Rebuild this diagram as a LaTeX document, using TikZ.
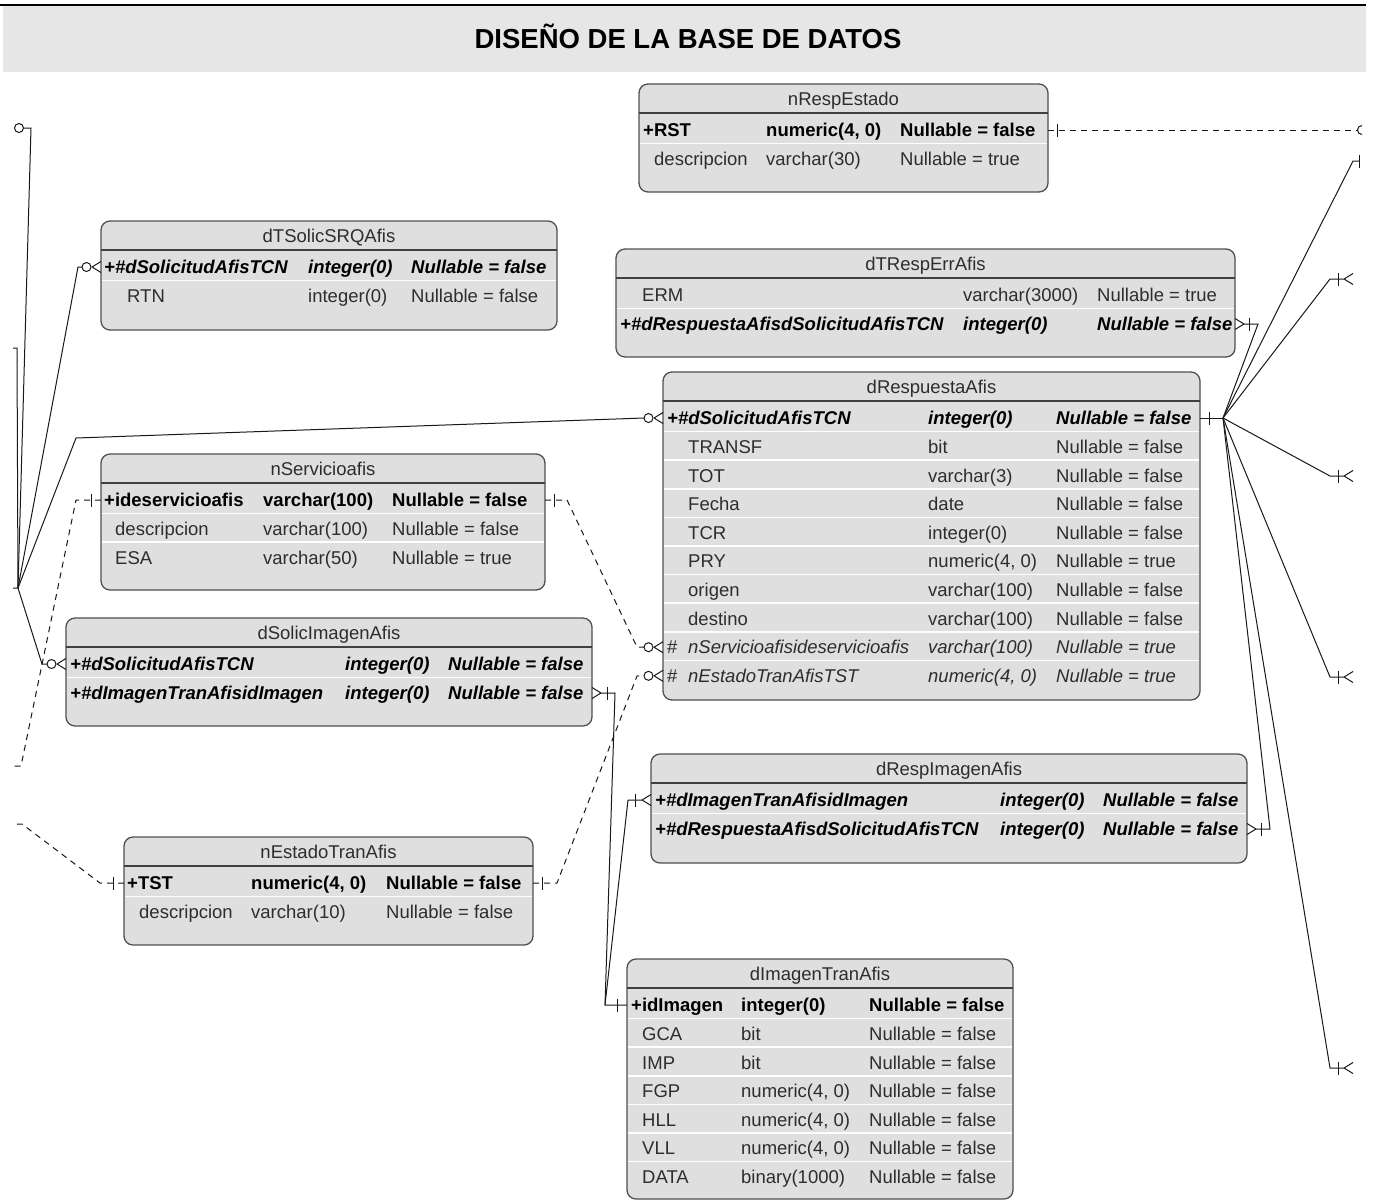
\documentclass[tikz,border=0pt]{standalone}
\usepackage{fontspec}
\setmainfont{Liberation Sans}
\usetikzlibrary{calc}

\definecolor{boxfill}{RGB}{223,223,223}
\definecolor{bandfill}{RGB}{230,230,230}
\definecolor{boxedge}{RGB}{80,80,80}
\definecolor{txt}{RGB}{45,45,45}
\definecolor{ink}{RGB}{25,25,25}

\tikzset{
  x=1pt, y=-1pt,
  tbox/.style={draw=boxedge, line width=1.3pt, fill=boxfill, rounded corners=9pt, inner sep=0pt, outer sep=0pt},
  hdrline/.style={draw=boxedge!80!black, line width=2pt},
  sepline/.style={draw=white, line width=1.6pt},
  htitle/.style={anchor=base, inner sep=0pt, text=txt, font=\fontsize{18.5}{20}\selectfont},
  cell/.style={anchor=base west, inner sep=0pt, text=txt, font=\fontsize{18.5}{20}\selectfont},
  pk/.style={cell, text=black, font=\fontsize{18.5}{20}\selectfont\bfseries},
  fk/.style={cell, text=black, font=\fontsize{18.5}{20}\selectfont\bfseries\itshape},
  fi/.style={cell, font=\fontsize{18.5}{20}\selectfont\itshape},
  conn/.style={draw=ink, line width=1pt},
  dconn/.style={conn, dash pattern=on 6pt off 5pt},
  sym/.style={draw=ink, line width=1pt, solid},
  crowfoot/.pic={\draw[sym] (-9,0) -- (0,-5.5) (-9,0) -- (0,5.5);},
  zeromany/.pic={\draw[sym] (-9,0) -- (0,-5.5) (-9,0) -- (0,5.5); \draw[sym] (-14.5,0) circle (4.5pt);},
  onebar/.pic={\draw[sym] (0,-6.5) -- (0,6.5);},
}

% table frame: name, left, top, right, bottom, header rule y, title
\newcommand\etable[7]{%
  \node[tbox, minimum width={(#4-#2)*1pt}, minimum height={(#5-#3)*1pt}] (#1) at ({(#2+#4)/2},{(#3+#5)/2}) {};
  \draw[hdrline] (#2,#6) -- (#4,#6);
  \node[htitle] (#1h) at ({(#2+#4)/2},{#3+21}) {#7};
}
% one row: name, baseline, style, x/name, x/type, x/nullable
\newcommand\trow[9]{%
  \node[#3] (#1n) at (#4,#2) {#5};
  \node[#3] (#1t) at (#6,#2) {#7};
  \node[#3] (#1u) at (#8,#2) {#9};
}
% white rule between rows
\newcommand\rsep[3]{\draw[sepline] (#1+1.2,#3) -- (#2-1.2,#3);}
% attachment point on a table side, level with a row
\newcommand\rowpt[3]{\coordinate (#1) at ($(#2 |- #3.base)+(0,-6.5)$);}

\begin{document}
\begin{tikzpicture}
\useasboundingbox (0,0) rectangle (1373,1203);
\fill[white] (0,0) rectangle (1373,1203);

% heading band
\fill[bandfill] (3,6) rectangle (1366,72);
\draw[line width=2pt, black] (0,5) -- (1366,5);
\node[anchor=base, inner sep=0pt, font=\fontsize{27.5}{30}\selectfont\bfseries] (title) at (688,48) {DISEÑO DE LA BASE DE DATOS};

% ---------------- tables ----------------
\etable{tNRE}{639}{84}{1048}{192}{113}{nRespEstado}
\trow{tNRE1}{136.5}{pk}{643}{+RST}{766}{numeric(4, 0)}{900}{Nullable = false}
\rsep{639}{1048}{143.5}
\trow{tNRE2}{165.5}{cell}{654}{descripcion}{766}{varchar(30)}{900}{Nullable = true}

\etable{tDTS}{101}{221}{557}{330}{250}{dTSolicSRQAfis}
\trow{tDTS1}{273.5}{fk}{104}{+\#dSolicitudAfisTCN}{308}{integer(0)}{411}{Nullable = false}
\rsep{101}{557}{280.5}
\trow{tDTS2}{302.5}{cell}{127}{RTN}{308}{integer(0)}{411}{Nullable = false}

\etable{tDTE}{616}{249}{1235}{357}{278}{dTRespErrAfis}
\trow{tDTE1}{301.5}{cell}{642}{ERM}{963}{varchar(3000)}{1097}{Nullable = true}
\rsep{616}{1235}{308.5}
\trow{tDTE2}{330.5}{fk}{620}{+\#dRespuestaAfisdSolicitudAfisTCN}{963}{integer(0)}{1097}{Nullable = false}

\etable{tDRA}{663}{372}{1200}{700}{401}{dRespuestaAfis}
\trow{tDRA1}{424.5}{fk}{667}{+\#dSolicitudAfisTCN}{928}{integer(0)}{1056}{Nullable = false}
\rsep{663}{1200}{431.5}
\trow{tDRA2}{453.5}{cell}{688}{TRANSF}{928}{bit}{1056}{Nullable = false}
\rsep{663}{1200}{460.1}
\trow{tDRA3}{482.1}{cell}{688}{TOT}{928}{varchar(3)}{1056}{Nullable = false}
\rsep{663}{1200}{488.7}
\trow{tDRA4}{510.7}{cell}{688}{Fecha}{928}{date}{1056}{Nullable = false}
\rsep{663}{1200}{517.3}
\trow{tDRA5}{539.3}{cell}{688}{TCR}{928}{integer(0)}{1056}{Nullable = false}
\rsep{663}{1200}{545.9}
\trow{tDRA6}{567.9}{cell}{688}{PRY}{928}{numeric(4, 0)}{1056}{Nullable = true}
\rsep{663}{1200}{574.5}
\trow{tDRA7}{596.5}{cell}{688}{origen}{928}{varchar(100)}{1056}{Nullable = false}
\rsep{663}{1200}{603.1}
\trow{tDRA8}{625.1}{cell}{688}{destino}{928}{varchar(100)}{1056}{Nullable = false}
\rsep{663}{1200}{631.7}
\node[cell] (tDRA9h) at (667,653.7) {\#};
\trow{tDRA9}{653.7}{fi}{688}{nServicioafisideservicioafis}{928}{varchar(100)}{1056}{Nullable = true}
\rsep{663}{1200}{660.3}
\node[cell] (tDRA10h) at (667,682.3) {\#};
\trow{tDRA10}{682.3}{fi}{688}{nEstadoTranAfisTST}{928}{numeric(4, 0)}{1056}{Nullable = true}

\etable{tNSA}{101}{454}{545}{590}{483}{nServicioafis}
\trow{tNSA1}{506.5}{pk}{104}{+ideservicioafis}{263}{varchar(100)}{392}{Nullable = false}
\rsep{101}{545}{513.5}
\trow{tNSA2}{535.5}{cell}{115}{descripcion}{263}{varchar(100)}{392}{Nullable = false}
\rsep{101}{545}{542.1}
\trow{tNSA3}{564.1}{cell}{115}{ESA}{263}{varchar(50)}{392}{Nullable = true}

\etable{tDSI}{66}{618}{592}{726}{647}{dSolicImagenAfis}
\trow{tDSI1}{670.5}{fk}{70}{+\#dSolicitudAfisTCN}{345}{integer(0)}{448}{Nullable = false}
\rsep{66}{592}{677.5}
\trow{tDSI2}{699.5}{fk}{70}{+\#dImagenTranAfisidImagen}{345}{integer(0)}{448}{Nullable = false}

\etable{tDRI}{651}{754}{1247}{863}{783}{dRespImagenAfis}
\trow{tDRI1}{806.5}{fk}{655}{+\#dImagenTranAfisidImagen}{1000}{integer(0)}{1103}{Nullable = false}
\rsep{651}{1247}{813.5}
\trow{tDRI2}{835.5}{fk}{655}{+\#dRespuestaAfisdSolicitudAfisTCN}{1000}{integer(0)}{1103}{Nullable = false}

\etable{tNET}{124}{837}{533}{945}{866}{nEstadoTranAfis}
\trow{tNET1}{889.5}{pk}{127}{+TST}{251}{numeric(4, 0)}{386}{Nullable = false}
\rsep{124}{533}{896.5}
\trow{tNET2}{918.5}{cell}{139}{descripcion}{251}{varchar(10)}{386}{Nullable = false}

\etable{tDIT}{627}{959}{1013}{1199}{988}{dImagenTranAfis}
\trow{tDIT1}{1011.5}{pk}{631}{+idImagen}{741}{integer(0)}{869}{Nullable = false}
\rsep{627}{1013}{1018.5}
\trow{tDIT2}{1040.5}{cell}{642}{GCA}{741}{bit}{869}{Nullable = false}
\rsep{627}{1013}{1047.1}
\trow{tDIT3}{1069.1}{cell}{642}{IMP}{741}{bit}{869}{Nullable = false}
\rsep{627}{1013}{1075.7}
\trow{tDIT4}{1097.7}{cell}{642}{FGP}{741}{numeric(4, 0)}{869}{Nullable = false}
\rsep{627}{1013}{1104.3}
\trow{tDIT5}{1126.3}{cell}{642}{HLL}{741}{numeric(4, 0)}{869}{Nullable = false}
\rsep{627}{1013}{1132.9}
\trow{tDIT6}{1154.9}{cell}{642}{VLL}{741}{numeric(4, 0)}{869}{Nullable = false}
\rsep{627}{1013}{1161.5}
\trow{tDIT7}{1183.5}{cell}{642}{DATA}{741}{binary(1000)}{869}{Nullable = false}

% ---------------- attachment points ----------------
\rowpt{pNRE1e}{tNRE.east}{tNRE1n}
\rowpt{pDTS1w}{tDTS.west}{tDTS1n}
\rowpt{pDTE2e}{tDTE.east}{tDTE2n}
\rowpt{pDRA1w}{tDRA.west}{tDRA1n}
\rowpt{pDRA1e}{tDRA.east}{tDRA1n}
\rowpt{pDRA9w}{tDRA.west}{tDRA9n}
\rowpt{pDRA10w}{tDRA.west}{tDRA10n}
\rowpt{pNSA1w}{tNSA.west}{tNSA1n}
\rowpt{pNSA1e}{tNSA.east}{tNSA1n}
\rowpt{pDSI1w}{tDSI.west}{tDSI1n}
\rowpt{pDSI2e}{tDSI.east}{tDSI2n}
\rowpt{pDRI1w}{tDRI.west}{tDRI1n}
\rowpt{pDRI2e}{tDRI.east}{tDRI2n}
\rowpt{pNET1w}{tNET.west}{tNET1n}
\rowpt{pNET1e}{tNET.east}{tNET1n}
\rowpt{pDIT1w}{tDIT.west}{tDIT1n}

% ---------------- relationships on the right ----------------
\coordinate (cvR) at (1223,418);
\draw[conn] (pDRA1e) -- (cvR);
\pic at ($(pDRA1e)+(9,0)$) {onebar};

\coordinate (kDTE) at (1258,324);
\draw[conn] ($(pDTE2e)+(9,0)$) -- (kDTE) -- (cvR);
\pic[xscale=-1] at (pDTE2e) {crowfoot};
\pic at ($(pDTE2e)+(14,0)$) {onebar};

\coordinate (kR1) at (1353,161);
\coordinate (eR1) at (1359,161);
\draw[conn] (cvR) -- (kR1) -- (eR1);
\pic at (eR1) {onebar};

\coordinate (kR2) at (1330,279);  \coordinate (eR2) at (1353,279);
\coordinate (kR3) at (1330,476);  \coordinate (eR3) at (1353,476);
\coordinate (kR4) at (1330,677);  \coordinate (eR4) at (1353,677);
\coordinate (kR5) at (1330,1068); \coordinate (eR5) at (1353,1068);
\foreach \k/\e in {kR2/eR2, kR3/eR3, kR4/eR4, kR5/eR5}{
  \draw[conn] (cvR) -- (\k) -- ($(\e)+(-9,0)$);
  \pic at (\e) {crowfoot};
  \pic at ($(\e)+(-15,0)$) {onebar};
}

\coordinate (kDRI) at (1270,829);
\draw[conn] ($(pDRI2e)+(9,0)$) -- (kDRI) -- (cvR);
\pic[xscale=-1] at (pDRI2e) {crowfoot};
\pic at ($(pDRI2e)+(14,0)$) {onebar};

% nRespEstado to the table beyond the right edge
\coordinate (eNRE) at (1357.5,130);
\draw[dconn] (pNRE1e) -- (eNRE);
\pic at ($(pNRE1e)+(9,0)$) {onebar};
\draw[sym] (1362,130) ++(90:4.5pt) arc[start angle=90, end angle=270, radius=4.5pt];

% ---------------- relationships on the left ----------------
\coordinate (cvL) at (18,588);

\coordinate (kL1) at (31,128);
\coordinate (eL1) at (19,128);
\draw[conn] (cvL) -- (kL1) -- ($(eL1)+(4.5,0)$);
\draw[sym] (eL1) circle (4.5pt);

\coordinate (bL1) at (13,348);
\coordinate (bL2) at (17,348);
\coordinate (bL3) at (13,588);
\draw[conn] (bL1) -- (bL2) -- (cvL) -- (bL3);

\coordinate (kDTS) at (78,267);
\draw[conn] (cvL) -- (kDTS) -- ($(pDTS1w)+(-19,0)$);
\pic at (pDTS1w) {zeromany};

\coordinate (kDRA) at (76,438);
\draw[conn] (cvL) -- (kDRA) -- ($(pDRA1w)+(-19,0)$);
\pic at (pDRA1w) {zeromany};

\coordinate (kDSI) at (42,664);
\draw[conn] (cvL) -- (kDSI) -- ($(pDSI1w)+(-19,0)$);
\pic at (pDSI1w) {zeromany};

% nServicioafis links
\coordinate (kNSA1) at (76,500);
\coordinate (kNSA2) at (21,766);
\coordinate (eNSA) at (14,766);
\draw[dconn] (pNSA1w) -- (kNSA1) -- (kNSA2) -- (eNSA);
\pic at ($(pNSA1w)+(-9.5,0)$) {onebar};

\coordinate (kNSA3) at (567,500);
\coordinate (kNSA4) at (637,647);
\draw[dconn] (pNSA1e) -- (kNSA3) -- (kNSA4) -- ($(pDRA9w)+(-19,0)$);
\pic at ($(pNSA1e)+(9,0)$) {onebar};
\pic at (pDRA9w) {zeromany};

% nEstadoTranAfis links
\coordinate (kNET1) at (100,883);
\coordinate (kNET2) at (22,824);
\coordinate (eNET) at (14,824);
\draw[dconn] (pNET1w) -- (kNET1) -- (kNET2) -- (eNET);
\pic at ($(pNET1w)+(-11,0)$) {onebar};

\coordinate (kNET3) at (557,883);
\coordinate (kNET4) at (637,676);
\draw[dconn] (pNET1e) -- (kNET3) -- (kNET4) -- ($(pDRA10w)+(-19,0)$);
\pic at ($(pNET1e)+(9,0)$) {onebar};
\pic at (pDRA10w) {zeromany};

% dImagenTranAfis links
\coordinate (kDSI2) at (615,693);
\coordinate (kDIT) at (605,1005);
\draw[conn] ($(pDSI2e)+(9,0)$) -- (kDSI2) -- (kDIT) -- (pDIT1w);
\pic[xscale=-1] at (pDSI2e) {crowfoot};
\pic at ($(pDSI2e)+(15,0)$) {onebar};
\pic at ($(pDIT1w)+(-10,0)$) {onebar};

\coordinate (kDRI1) at (628,800);
\draw[conn] ($(pDRI1w)+(-9,0)$) -- (kDRI1) -- (kDIT);
\pic at (pDRI1w) {crowfoot};
\pic at ($(pDRI1w)+(-16,0)$) {onebar};
\end{tikzpicture}
\end{document}
